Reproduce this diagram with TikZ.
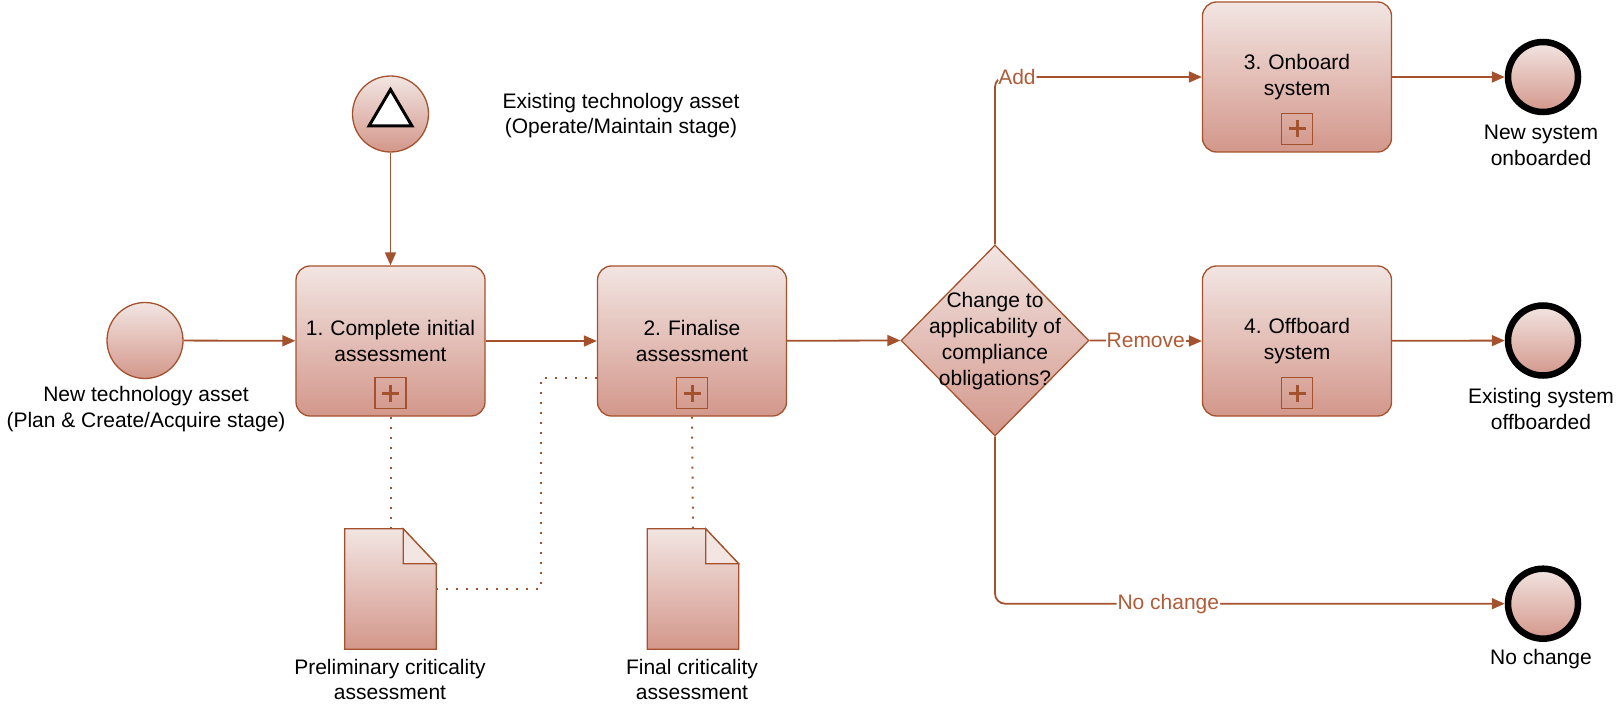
\documentclass[tikz,border=0pt]{standalone}
\usepackage{fontspec}
\setmainfont{Liberation Sans}
\usetikzlibrary{arrows.meta,calc,shapes.geometric}
\definecolor{brd}{RGB}{164,82,45}
\definecolor{ftop}{RGB}{242,229,226}
\definecolor{fbot}{RGB}{211,151,139}
\definecolor{lbl}{RGB}{176,92,56}
\frenchspacing
\begin{document}
\begin{tikzpicture}[x=1pt,y=-1pt,
  font=\fontsize{21}{25.8}\selectfont,
  shaded/.style={top color=ftop,bottom color=fbot},
  task/.style={shaded,draw=brd,line width=1.3pt,rounded corners=14pt,
    minimum width=189pt,minimum height=150pt,align=center,text width=182pt,inner sep=0pt},
  startev/.style={circle,shaded,draw=brd,line width=1.3pt,minimum size=76pt,inner sep=0pt},
  endev/.style={circle,shaded,draw=black,line width=6.5pt,minimum size=70pt,inner sep=0pt},
  gate/.style={diamond,shaded,draw=brd,line width=1.3pt,minimum width=188pt,minimum height=191pt,inner sep=0pt},
  docbox/.style={minimum width=91pt,minimum height=120pt,inner sep=0pt},
  docfill/.style={shaded,draw=brd,line width=1.3pt},
  plusbox/.style={draw=brd,line width=1.6pt,minimum size=31pt,inner sep=0pt},
  plusline/.style={draw=brd,line width=3pt},
  txt/.style={align=center,inner sep=0pt},
  flow/.style={draw=brd,line width=1.8pt,-{Triangle[length=13pt,width=11pt]}},
  assoc/.style={draw=brd,line width=2pt,dash pattern=on 2pt off 8pt},
  elab/.style={fill=white,text=lbl,inner sep=1pt}]
\useasboundingbox (0,0) rectangle (1618,706);

% events
\node[startev] (s) at (145,340.5) {};
\node[txt] (slab) at (146,409) {New technology asset\\(Plan \& Create/Acquire stage)};
\node[startev] (ex) at (390.5,114) {};
\draw[line width=3pt,fill=white] ($(ex.center)+(0,-24.5)$) -- ($(ex.center)+(-21.5,12)$) -- ($(ex.center)+(21.5,12)$) -- cycle;
\node[txt] (exlab) at (621,115.5) {Existing technology asset\\(Operate/Maintain stage)};

% tasks
\node[task] (t1) at (390.5,341) {1. Complete initial\\assessment};
\node[task] (t2) at (692,341) {2. Finalise\\assessment};
\node[task] (t3) at (1297,77) {3. Onboard\\system};
\node[task] (t4) at (1297,341) {4. Offboard\\system};
\foreach \t in {t1,t2,t3,t4}{
  \node[plusbox] (p\t) at ($(\t.center)+(0,52)$) {};
  \draw[plusline] ($(p\t.center)+(-8.5,0)$) -- ($(p\t.center)+(8.5,0)$)
                  ($(p\t.center)+(0,-8.5)$) -- ($(p\t.center)+(0,8.5)$);
}

% gateway
\node[gate] (g) at (995,340.5) {};
\node[txt] (gl) at (995,341) {Change to\\applicability of\\compliance\\obligations?};

% end events
\node[endev] (e1) at (1543,77) {};
\node[endev] (e2) at (1543,340.5) {};
\node[endev] (e3) at (1543,603.7) {};
\node[txt] (e1l) at (1541,145) {New system\\onboarded};
\node[txt] (e2l) at (1541,409) {Existing system\\offboarded};
\node[txt] (e3l) at (1541,659.5) {No change};

% data objects
\foreach \d/\x in {d1/390.5,d2/693}{
  \node[docbox] (\d) at (\x,589) {};
  \path[docfill] (\d.north west) -- ($(\d.north east)+(-33,0)$) -- ($(\d.north east)+(0,35)$)
     -- (\d.south east) -- (\d.south west) -- cycle;
  \draw[draw=brd,line width=1.3pt,fill=ftop] ($(\d.north east)+(-33,0)$) -- ($(\d.north east)+(-33,35)$)
     -- ($(\d.north east)+(0,35)$) -- cycle;
}
\node[txt] (d1l) at (390,679.5) {Preliminary criticality\\assessment};
\node[txt] (d2l) at (692,679.5) {Final criticality\\assessment};

% sequence flows
\draw[flow] (s) -- (t1);
\draw[flow] (ex) -- (t1);
\draw[flow] (t1) -- (t2);
\draw[flow] (t2) -- (g.west);
\draw[flow,rounded corners=10pt] (g.north) |- node[elab,pos=0.553] {Add} (t3.west);
\draw[flow] (g.east) -- node[elab] {Remove} (t4.west);
\draw[flow,rounded corners=10pt] (g.south) |- node[elab,pos=0.67] {No change} (e3.west);
\draw[flow] (t3) -- (e1);
\draw[flow] (t4) -- (e2);

% associations
\draw[assoc] (t1.south) -- (d1.north);
\draw[assoc] (t2.south) -- (d2.north);
\draw[assoc] (d1.east) -- ++(105,0) |- ([yshift=-37pt]t2.west);
\end{tikzpicture}
\end{document}
